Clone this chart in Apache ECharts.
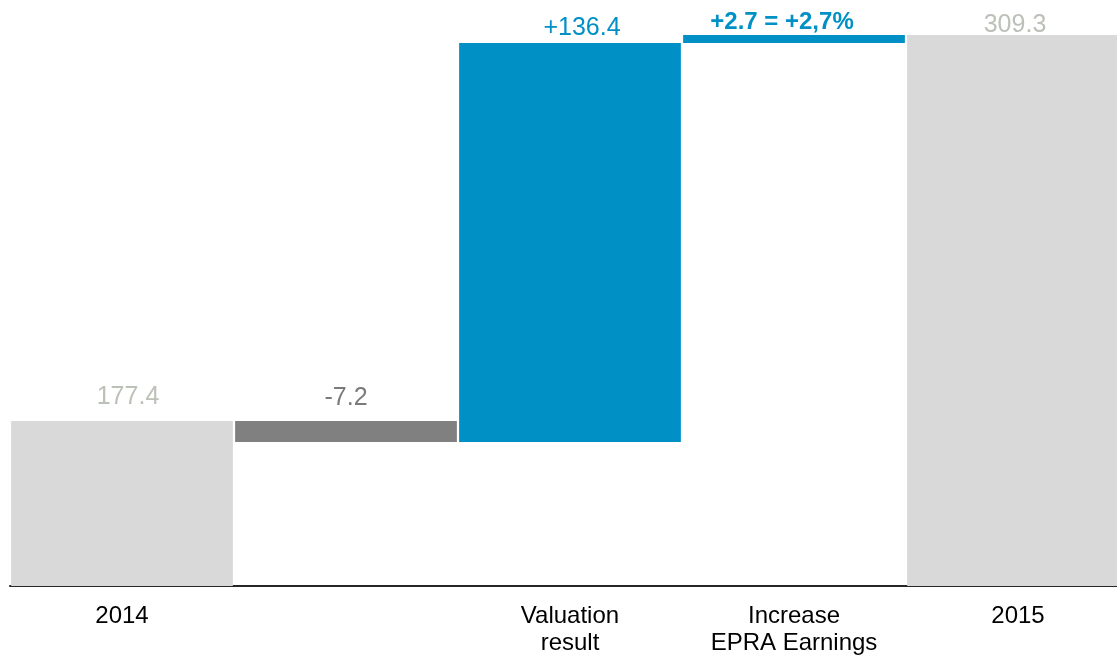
<!DOCTYPE html>
<html>
<head>
<meta charset="utf-8">
<title>NAV bridge 2014 – 2015</title>
<script src="https://cdn.jsdelivr.net/npm/echarts@6/dist/echarts.min.js"></script>
<style>
  html, body { margin: 0; padding: 0; background: #ffffff; }
  #chart { width: 1117px; height: 656px; }
</style>
</head>
<body>
<div id="chart"></div>
<script>
// Bridge categories (axis labels) and the step kinds
const categories = ['2014', '', 'Valuation\nresult', 'Increase\nEPRA Earnings', '2015'];
const stepKinds = ['total', 'delta', 'delta', 'delta', 'total'];
// Values: totals are absolute, deltas are changes
const stepValues = [177.4, -7.2, 136.4, 2.7, 309.3];
// Texts printed above each bar
const valueLabels = ['177.4', '-7.2', '+136.4', '+2.7 = +2,7%', '309.3'];

// Value axis range (the axis is cut below the bars)
const yMin = 121;
const yMax = 309.3;

// Build [index, low, high] for every bar from the running total
const bars = [];
let running = 0;
stepValues.forEach(function (v, i) {
  if (stepKinds[i] === 'total') {
    running = v;
    bars.push([i, 0, v]);
  } else {
    const start = running;
    running = +(running + v).toFixed(1);
    bars.push([i, Math.min(start, running), Math.max(start, running)]);
  }
});

// Appearance
const FONT = "'Liberation Sans', Arial, sans-serif";
const colTotal = '#d9d9d9';
const colNeg = '#808080';
const colPos = '#0090c6';
function barColor(i) {
  if (stepKinds[i] === 'total') return colTotal;
  return stepValues[i] < 0 ? colNeg : colPos;
}
function labelStyle(i) {
  if (stepKinds[i] === 'total') return { fill: '#bcc1b8', font: '25px ' + FONT };
  if (stepValues[i] < 0) return { fill: '#7a7a7a', font: '25px ' + FONT };
  if (i === 3) return { fill: colPos, font: 'bold 24px ' + FONT };
  return { fill: colPos, font: '25px ' + FONT };
}
// Horizontal shift and baseline gap of each label relative to its bar top
const labelShift = [[6, 15], [0, 14], [12, 6], [-12, 4], [-3, 1]];

const chart = echarts.init(document.getElementById('chart'), null, { renderer: 'canvas' });

chart.setOption({
  animation: false,
  backgroundColor: '#ffffff',
  grid: { left: 10, top: 35, width: 1120, bottom: 70, outerBoundsMode: 'none', containLabel: false },
  xAxis: {
    type: 'category',
    data: categories,
    axisLine: { show: true, lineStyle: { color: '#262626', width: 2 } },
    axisTick: { show: false },
    axisLabel: {
      interval: 0,
      color: '#000000',
      fontFamily: FONT,
      fontSize: 24,
      lineHeight: 27,
      margin: 17
    },
    splitLine: { show: false }
  },
  yAxis: {
    type: 'value',
    min: yMin,
    max: yMax,
    show: false,
    splitLine: { show: false }
  },
  series: [{
    type: 'custom',
    data: bars,
    encode: { x: 0, y: [1, 2] },
    renderItem: function (params, api) {
      const i = api.value(0);
      const lo = api.value(1);
      const hi = api.value(2);
      const top = api.coord([i, hi]);
      const base = api.coord([i, lo]);
      const cs = params.coordSys;
      const bottom = Math.min(base[1], cs.y + cs.height);
      const w = api.size([1, 0])[0] * 0.99;
      const ls = labelStyle(i);
      const fs = parseFloat(ls.font.match(/(\d+)px/)[1]);
      const shift = labelShift[i];
      return {
        type: 'group',
        children: [
          {
            type: 'rect',
            shape: { x: top[0] - w / 2, y: top[1], width: w, height: bottom - top[1] },
            style: { fill: barColor(i) }
          },
          {
            type: 'text',
            x: top[0] + shift[0],
            y: top[1] - shift[1] - 0.35 * fs,
            style: {
              text: valueLabels[i],
              fill: ls.fill,
              font: ls.font,
              align: 'center',
              verticalAlign: 'middle'
            }
          }
        ]
      };
    }
  }]
});
</script>
</body>
</html>
